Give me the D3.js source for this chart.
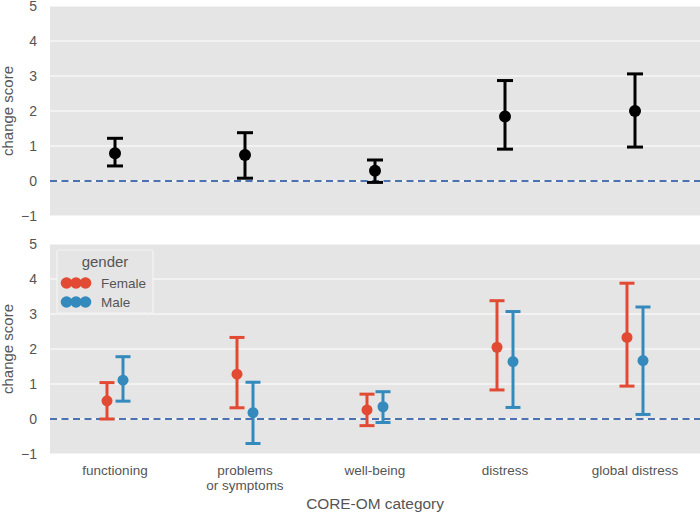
<!DOCTYPE html>
<html>
<head>
<meta charset="utf-8">
<script src="https://cdn.jsdelivr.net/npm/d3@7"></script>
<style>
  body { margin: 0; background: #fff; }
  text { font-family: "Liberation Sans", Arial, sans-serif; fill: #555; }
</style>
</head>
<body>
<main></main>
<script>
// categories on the x axis
const categories = ["functioning", "problems\nor symptoms", "well-being", "distress", "global distress"];
const yTicks = [-1, 0, 1, 2, 3, 4, 5];

// top panel: all participants (mean, lower, upper)
const allMean  = [0.79, 0.74, 0.29, 1.84, 2.00];
const allLow   = [0.43, 0.08, -0.04, 0.91, 0.97];
const allHigh  = [1.22, 1.38, 0.60, 2.87, 3.06];

// bottom panel: by gender
const genders = ["Female", "Male"];
const femaleMean = [0.52, 1.28, 0.26, 2.05, 2.33];
const femaleLow  = [0.00, 0.32, -0.19, 0.83, 0.94];
const femaleHigh = [1.04, 2.33, 0.71, 3.38, 3.88];
const maleMean   = [1.11, 0.18, 0.35, 1.64, 1.67];
const maleLow    = [0.51, -0.70, -0.10, 0.33, 0.13];
const maleHigh   = [1.78, 1.05, 0.78, 3.07, 3.20];

const width = 700, height = 515;
const svg = d3.select("main").append("svg")
  .attr("width", width).attr("height", height);

const x = d3.scaleBand().domain(categories).range([50, 700]);
const colors = d3.scaleOrdinal().domain(genders).range(["#E24A33", "#348ABD"]);
const dodge = d3.scaleOrdinal().domain(genders).range([-8, 8]);

function panel(top, bottom) {
  const y = d3.scaleLinear().domain([-1, 5]).range([bottom, top]);
  const g = svg.append("g");
  g.append("rect")
    .attr("x", 50).attr("y", top)
    .attr("width", 650).attr("height", bottom - top)
    .attr("fill", "#E5E5E5");
  g.selectAll(".grid")
    .data(yTicks)
    .enter()
    .append("line")
    .attr("x1", 50).attr("x2", 700)
    .attr("y1", d => y(d)).attr("y2", d => y(d))
    .attr("stroke", "#fff").attr("stroke-width", 1.2);
  const yAxis = d3.axisLeft(y).tickValues(yTicks).tickSize(0).tickPadding(13)
    .tickFormat(d => d < 0 ? "\u2212" + Math.abs(d) : d);
  g.append("g")
    .attr("transform", "translate(50,0)")
    .call(yAxis)
    .call(a => a.select(".domain").remove())
    .selectAll("text")
    .style("font-size", "14px").attr("fill", "#555");
  g.append("line")
    .attr("x1", 50).attr("x2", 700)
    .attr("y1", y(0)).attr("y2", y(0))
    .attr("stroke", "#4C72B0").attr("stroke-width", 2)
    .attr("stroke-dasharray", "7,4.5");
  g.append("text")
    .attr("transform", `translate(13,${(top + bottom) / 2}) rotate(-90)`)
    .attr("text-anchor", "middle")
    .style("font-size", "15px")
    .text("change score");
  return { g, y };
}

function errorBars(g, y, means, lows, highs, color, offset, capW, r, sw) {
  const cx = (d, i) => x(categories[i]) + x.bandwidth() / 2 + offset;
  const sel = g.append("g").selectAll("g")
    .data(means).enter().append("g");
  sel.append("line")
    .attr("x1", cx).attr("x2", cx)
    .attr("y1", (d, i) => y(lows[i])).attr("y2", (d, i) => y(highs[i]))
    .attr("stroke", color).attr("stroke-width", sw);
  [lows, highs].forEach(arr => {
    sel.append("line")
      .attr("x1", (d, i) => cx(d, i) - capW / 2).attr("x2", (d, i) => cx(d, i) + capW / 2)
      .attr("y1", (d, i) => y(arr[i])).attr("y2", (d, i) => y(arr[i]))
      .attr("stroke", color).attr("stroke-width", sw);
  });
  sel.append("circle")
    .attr("cx", cx).attr("cy", d => y(d))
    .attr("r", r).attr("fill", color);
}

// top panel
const p1 = panel(6, 216);
errorBars(p1.g, p1.y, allMean, allLow, allHigh, "#000", 0, 16, 6, 3);

// bottom panel
const p2 = panel(244, 454);
errorBars(p2.g, p2.y, femaleMean, femaleLow, femaleHigh, colors("Female"), dodge("Female"), 15, 5.5, 3);
errorBars(p2.g, p2.y, maleMean, maleLow, maleHigh, colors("Male"), dodge("Male"), 15, 5.5, 3);

// x axis labels
const xl = svg.append("g").selectAll("text")
  .data(categories).enter().append("text")
  .attr("x", d => x(d) + x.bandwidth() / 2)
  .attr("y", 475)
  .attr("text-anchor", "middle")
  .style("font-size", "13.5px");
xl.each(function(d) {
  d.split("\n").forEach((line, i) => {
    d3.select(this).append("tspan")
      .attr("x", x(d) + x.bandwidth() / 2)
      .attr("dy", i === 0 ? 0 : 15)
      .text(line);
  });
});

svg.append("text")
  .attr("x", 375).attr("y", 509)
  .attr("text-anchor", "middle")
  .style("font-size", "15.4px")
  .text("CORE-OM category");

// legend
const legend = svg.append("g").attr("id", "legend");
legend.append("rect")
  .attr("x", 57).attr("y", 250).attr("width", 96).attr("height", 63)
  .attr("fill", "#E5E5E5").attr("stroke", "#f4f4f4").attr("stroke-width", 1.2).attr("rx", 2);
legend.append("text")
  .attr("x", 105).attr("y", 267).attr("text-anchor", "middle")
  .style("font-size", "15px").text("gender");
genders.forEach((gname, i) => {
  const cy = 283 + i * 19;
  [66.5, 76, 85.5].forEach(cx => {
    legend.append("circle").attr("cx", cx).attr("cy", cy).attr("r", 5.8).attr("fill", colors(gname));
  });
  legend.append("text")
    .attr("x", 101).attr("y", cy + 5)
    .style("font-size", "13.5px").text(gname);
});
</script>
</body>
</html>
